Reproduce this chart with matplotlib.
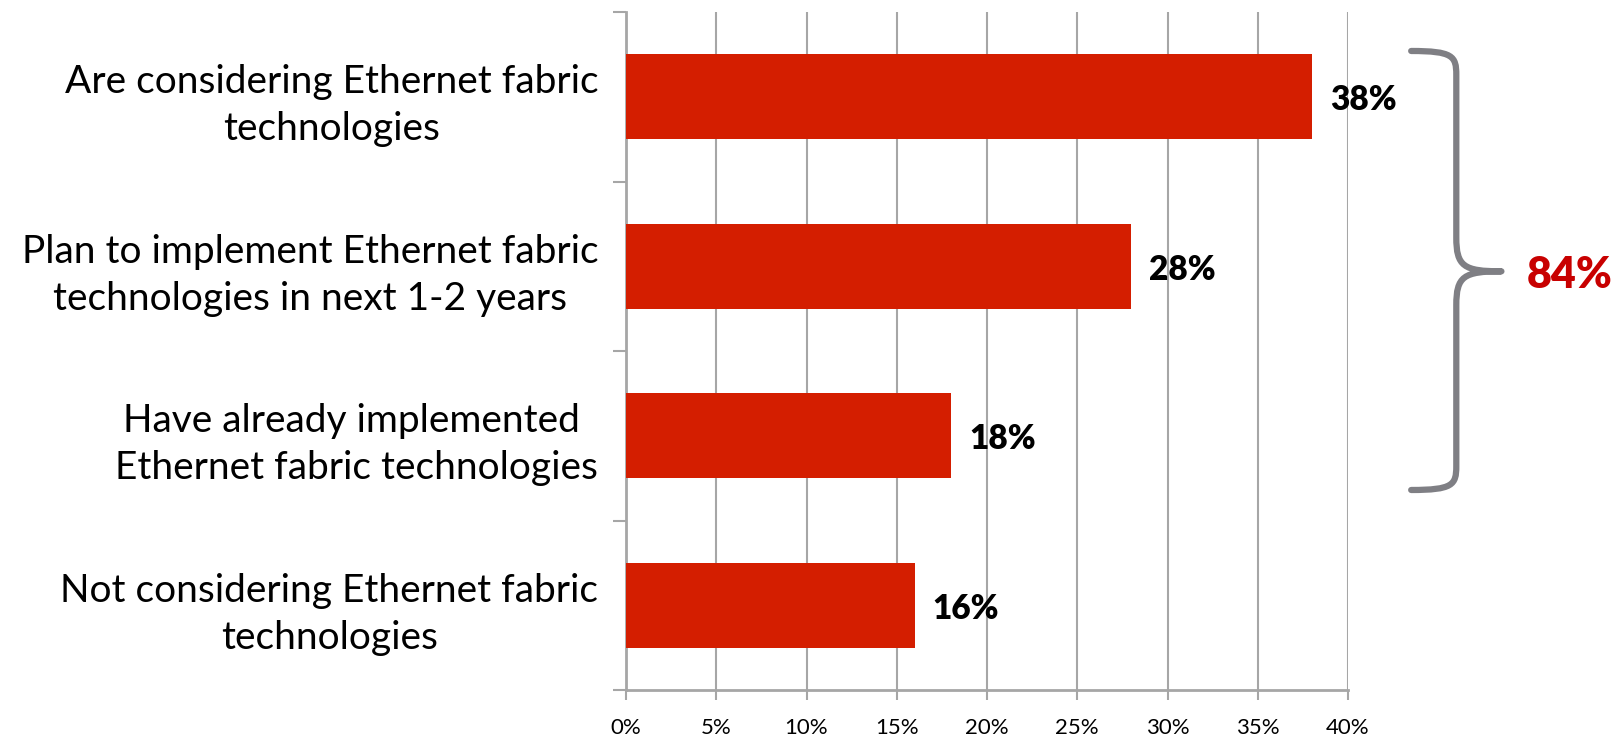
import numpy as np
import matplotlib
matplotlib.use("Agg")
import matplotlib.pyplot as plt
from matplotlib.path import Path
from matplotlib.patches import PathPatch

plt.rcParams['font.family'] = ['Lato', 'DejaVu Sans']

categories = ["Are considering Ethernet fabric\ntechnologies",
              "Plan to implement Ethernet fabric\ntechnologies in next 1-2 years",
              "Have already implemented \nEthernet fabric technologies",
              "Not considering Ethernet fabric\ntechnologies"]
values = [38, 28, 18, 16]
xticks = [0, 5, 10, 15, 20, 25, 30, 35, 40]
bracket_total = sum(values[:3])

bar_color = '#D41E00'
grey = '#A6A6A6'

fig = plt.figure(figsize=(16.2, 7.38), dpi=100)
ax = fig.add_axes([626/1620, 48/738, 722/1620, 678/738])

y = np.arange(len(categories))
ax.barh(y, values, height=0.5, color=bar_color, zorder=3)
ax.set_ylim(len(categories) - 0.5, -0.5)
ax.set_xlim(0, 40)

ax.set_xticks(xticks)
ax.set_xticklabels([f"{t}%" for t in xticks], fontsize=16)
ax.set_yticks(y)
ax.set_yticklabels(categories, fontsize=28, linespacing=1.38)
for lab in ax.get_yticklabels():
    lab.set_multialignment('center')
ax.set_yticks(np.arange(len(categories) + 1) - 0.5, minor=True)

ax.tick_params(axis='y', which='major', length=0, pad=20)
ax.tick_params(axis='y', which='minor', length=9.5, width=1.5, color=grey)
ax.tick_params(axis='x', length=7, width=1.5, color=grey, pad=13)

ax.grid(axis='x', color=grey, lw=1.5, zorder=0)
for side in ['top', 'right']:
    ax.spines[side].set_visible(False)
for side in ['left', 'bottom']:
    ax.spines[side].set_color(grey)
    ax.spines[side].set_linewidth(2)

for yi, v in zip(y, values):
    ax.text(v + 1.0, yi + 0.02, f"{v}%", va='center', ha='left',
            fontsize=24, fontweight='heavy', color='black')

# curly bracket around the first three bars
xl, xv, xt = 43.5, 46.0, 48.5
yt, ym, yb = -0.27, 1.03, 2.32
verts = [(xl, yt), (xv - 0.2, yt), (xv, yt + 0.03), (xv, yt + 0.14),
         (xv, ym - 0.2),
         (xv, ym - 0.03), (xv + 0.4, ym), (xt, ym),
         (xv + 0.4, ym), (xv, ym + 0.03), (xv, ym + 0.2),
         (xv, yb - 0.14),
         (xv, yb - 0.03), (xv - 0.2, yb), (xl, yb)]
codes = [Path.MOVETO, Path.CURVE4, Path.CURVE4, Path.CURVE4,
         Path.LINETO,
         Path.CURVE4, Path.CURVE4, Path.CURVE4,
         Path.CURVE4, Path.CURVE4, Path.CURVE4,
         Path.LINETO,
         Path.CURVE4, Path.CURVE4, Path.CURVE4]
brace = PathPatch(Path(verts, codes), fill=False, edgecolor='#7F7F84',
                  lw=4.5, capstyle='round', joinstyle='round', clip_on=False)
ax.add_patch(brace)
ax.text(49.9, 1.05, f"{bracket_total}%", va='center', ha='left',
        fontsize=31, fontweight='heavy', color='#C80000', clip_on=False)

fig.savefig("out.png", dpi=100)
